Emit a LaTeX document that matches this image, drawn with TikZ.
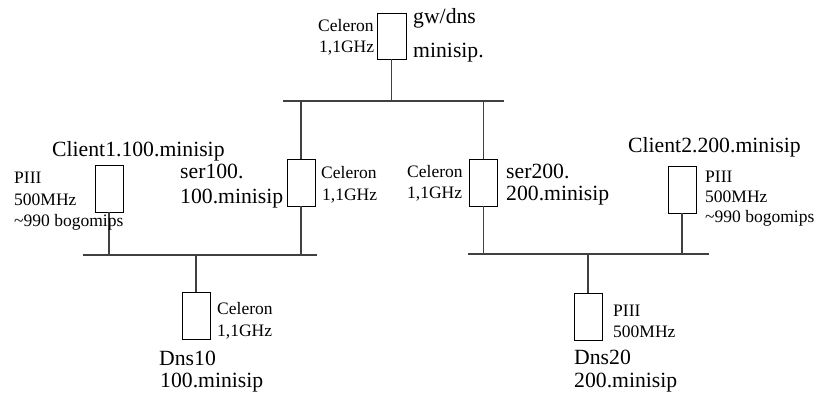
\documentclass[tikz,border=0pt]{standalone}
\usepackage{fontspec}
\setmainfont{Liberation Serif}
\begin{document}
\begin{tikzpicture}[x=1pt,y=-1pt,
  host/.style={draw=black,line width=0.9pt,minimum width=28pt,minimum height=47pt,inner sep=0pt},
  wire/.style={draw=black!75,line width=1.1pt},
  big/.style={inner sep=0pt,anchor=base west,font=\fontsize{21.7}{24}\selectfont},
  small/.style={inner sep=0pt,anchor=base west,font=\fontsize{17.5}{20}\selectfont}]
\useasboundingbox (0,0) rectangle (820,396);
% buses
\coordinate (tl) at (283,101); \coordinate (tr) at (504,101);
\coordinate (ll) at (83,255);  \coordinate (lr) at (317,255);
\coordinate (rl) at (468,254); \coordinate (rr) at (709,254);
\draw[wire] (tl) -- (tr);
\draw[wire] (ll) -- (lr);
\draw[wire] (rl) -- (rr);
% hosts
\node[host,minimum width=29pt,minimum height=46pt] (gw) at (391.5,36) {};
\node[host] (ser100) at (301,182.5) {};
\node[host] (ser200) at (483.5,182.5) {};
\node[host] (client1) at (109,188.5) {};
\node[host] (client2) at (682,189.5) {};
\node[host] (dns10) at (196,316) {};
\node[host] (dns20) at (588,317) {};
% connectors
\draw[wire] (gw.south) -- (gw.south |- tl);
\draw[wire] (ser100.north) -- (ser100.north |- tl);
\draw[wire] (ser100.south) -- (ser100.south |- ll);
\draw[wire] (ser200.north) -- (ser200.north |- tl);
\draw[wire] (ser200.south) -- (ser200.south |- rl);
\draw[wire] (client1.south) -- (client1.south |- ll);
\draw[wire] (client2.south) -- (client2.south |- rl);
\draw[wire] (dns10.north) -- (dns10.north |- ll);
\draw[wire] (dns20.north) -- (dns20.north |- rl);
% labels: gw
\node[small] (gwc) at (318,32) {Celeron};
\node[small] (gwg) at (319,53) {1,1GHz};
\node[big] (gwn) at (413,24) {gw/dns};
\node[big] (gwm) at (413,58) {minisip.};
% client1
\node[big] (c1n) at (52,157) {Client1.100.minisip};
\node[small] (c1a) at (14,183) {PIII};
\node[small] (c1b) at (14,205) {500MHz};
\node[small] (c1c) at (14,226) {\textasciitilde990 bogomips};
% ser100
\node[big] (s1a) at (180,178) {ser100.};
\node[big] (s1b) at (180,203) {100.minisip};
\node[small] (s1c) at (321,178) {Celeron};
\node[small] (s1d) at (322,200) {1,1GHz};
% ser200
\node[small] (s2c) at (407,177) {Celeron};
\node[small] (s2d) at (407,198) {1,1GHz};
\node[big] (s2a) at (506,178) {ser200.};
\node[big] (s2b) at (506,200) {200.minisip};
% client2
\node[big] (c2n) at (628,153) {Client2.200.minisip};
\node[small] (c2a) at (705,182) {PIII};
\node[small] (c2b) at (705,202) {500MHz};
\node[small] (c2c) at (705,222) {\textasciitilde990 bogomips};
% dns10
\node[small] (d1a) at (217,314) {Celeron};
\node[small] (d1b) at (217,336) {1,1GHz};
\node[big] (d1c) at (159,365) {Dns10};
\node[big] (d1d) at (160,387) {100.minisip};
% dns20
\node[small] (d2a) at (613,316) {PIII};
\node[small] (d2b) at (613,337) {500MHz};
\node[big] (d2c) at (574,364) {Dns20};
\node[big] (d2d) at (574,387) {200.minisip};
\end{tikzpicture}
\end{document}
